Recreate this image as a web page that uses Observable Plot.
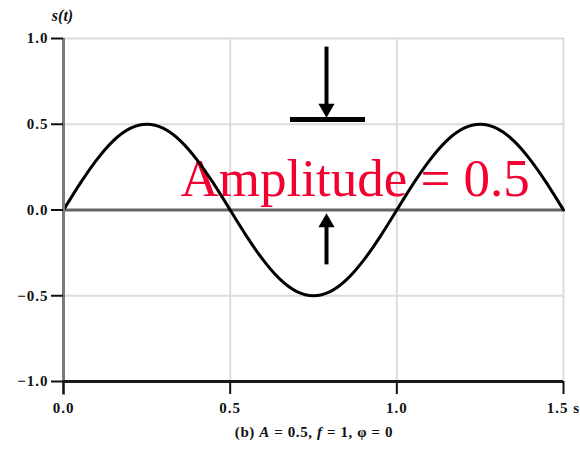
<!DOCTYPE html>
<html><head><meta charset="utf-8">
<script src="https://cdn.jsdelivr.net/npm/d3@7"></script>
<script src="https://cdn.jsdelivr.net/npm/@observablehq/plot@0.6"></script>
<style>body{margin:0;background:#fff}</style>
</head><body><div id="chart"></div>
<script>
// time (s) and signal values
const tValues = [0, 0.05, 0.10, 0.15, 0.20, 0.25, 0.30, 0.35, 0.40, 0.45, 0.50,
  0.55, 0.60, 0.65, 0.70, 0.75, 0.80, 0.85, 0.90, 0.95, 1.00,
  1.05, 1.10, 1.15, 1.20, 1.25, 1.30, 1.35, 1.40, 1.45, 1.50];
const sValues = [0, 0.155, 0.294, 0.405, 0.476, 0.5, 0.476, 0.405, 0.294, 0.155, 0,
  -0.155, -0.294, -0.405, -0.476, -0.5, -0.476, -0.405, -0.294, -0.155, 0,
  0.155, 0.294, 0.405, 0.476, 0.5, 0.476, 0.405, 0.294, 0.155, 0];

const xTicks = [0, 0.5, 1.0, 1.5];
const xTickLabels = ["0.0", "0.5", "1.0", "1.5 s"];
const yTicks = [-1, -0.5, 0, 0.5, 1];
const yTickLabels = ["\u22121.0", "\u22120.5", "0.0", "0.5", "1.0"];
const xGrid = [0.5, 1.0, 1.5];
const yGrid = [1.0, 0.5, -0.5];

// annotation
const annotationText = ["Amplitude = 0.5"];
const annotationX = [0.351];
const annotationY = [0.079];
const arrowX = [0.789];
const downShaft = [{y1: 0.95, y2: 0.60}];
const downHead = [0.592];
const barY = [0.528];
const barX = [0.681, 0.906];
const upShaft = [{y1: -0.08, y2: -0.32}];
const upHead = [-0.073];

const serif = "'Liberation Serif', 'Times New Roman', serif";
const data = tValues.map((t, i) => ({t, s: sValues[i]}));

const chart = Plot.plot({
  width: 580,
  height: 449,
  marginLeft: 63,
  marginRight: 17,
  marginTop: 38,
  marginBottom: 68,
  style: {fontFamily: serif, fontSize: "15px", fontWeight: "bold", color: "#111", background: "#fff"},
  x: {domain: [0, 1.5]},
  y: {domain: [-1, 1]},
  marks: [
    Plot.ruleX(xGrid, {stroke: "#dcdcdc", strokeWidth: 2}),
    Plot.ruleY(yGrid, {stroke: "#dcdcdc", strokeWidth: 2}),
    Plot.ruleY([0], {stroke: "#666", strokeWidth: 3}),
    Plot.text(annotationText, {x: annotationX, y: annotationY, text: d => d,
      textAnchor: "start", lineAnchor: "bottom", fontSize: 53, fontWeight: "normal",
      fontFamily: serif, fill: "#f20030"}),
    Plot.line(data, {x: "t", y: "s", curve: "natural", stroke: "#000", strokeWidth: 3}),
    Plot.ruleX([0], {y1: -1.08, y2: 1, stroke: "#7a7a7a", strokeWidth: 3}),
    Plot.ruleY([-1], {stroke: "#1a1a1a", strokeWidth: 3}),
    Plot.axisY({ticks: yTicks, tickFormat: d => yTickLabels[yTicks.indexOf(d)],
      tickSize: 12, tickPadding: 3, strokeWidth: 2, label: null}),
    Plot.axisX({ticks: xTicks, tickFormat: d => xTickLabels[xTicks.indexOf(d)],
      tickSize: 13, tickPadding: 8, strokeWidth: 2, label: null}),
    // arrows and bar
    Plot.ruleX(downShaft, {x: arrowX[0], y1: "y1", y2: "y2", stroke: "#000", strokeWidth: 4}),
    Plot.dot(downHead, {x: arrowX[0], y: d => d, symbol: "triangle", r: 6, rotate: 180, fill: "#000"}),
    Plot.ruleY(barY, {x1: barX[0], x2: barX[1], stroke: "#000", strokeWidth: 5}),
    Plot.ruleX(upShaft, {x: arrowX[0], y1: "y1", y2: "y2", stroke: "#000", strokeWidth: 4}),
    Plot.dot(upHead, {x: arrowX[0], y: d => d, symbol: "triangle", r: 6, fill: "#000"}),
    Plot.text(["s(t)"], {frameAnchor: "top-left", dx: -1, dy: -18, lineAnchor: "bottom",
      textAnchor: "middle", fontStyle: "italic", fontSize: 16, fontWeight: "bold"})
  ]
});

const svg = d3.select(chart);
// slightly wider tick labels, as in the original
svg.selectAll('g[aria-label$="tick label"]').attr("letter-spacing", "1px");

// caption below the axis, with italic symbols
const cap = svg.append("text")
  .attr("x", 314).attr("y", 437)
  .attr("text-anchor", "middle")
  .attr("font-family", serif).attr("font-size", 15).attr("font-weight", "bold")
  .attr("letter-spacing", "0.6px")
  .attr("fill", "#111");
cap.append("tspan").text("(b) ");
cap.append("tspan").attr("font-style", "italic").text("A");
cap.append("tspan").text(" = 0.5, ");
cap.append("tspan").attr("font-style", "italic").text("f");
cap.append("tspan").text(" = 1, \u03c6 = 0");

document.getElementById("chart").append(chart);
</script>
</body></html>
